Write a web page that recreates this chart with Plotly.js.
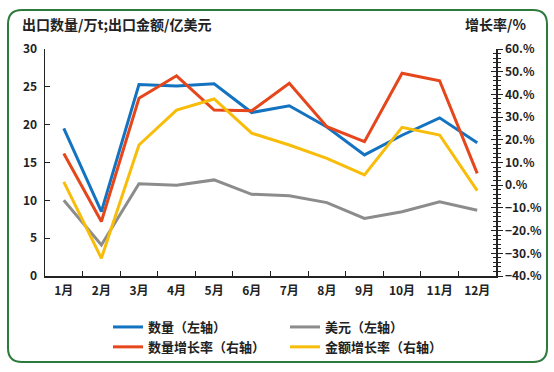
<!DOCTYPE html>
<html><head><meta charset="utf-8">
<script src="https://cdn.plot.ly/plotly-3.0.1.min.js"></script>
<style>html,body{margin:0;padding:0;background:#fff}#c{width:554px;height:372px}</style>
</head><body><div id="c"></div>
<script>
const months = ['1月','2月','3月','4月','5月','6月','7月','8月','9月','10月','11月','12月'];
const qty = [19.5, 8.5, 25.3, 25.1, 25.4, 21.6, 22.5, 19.7, 16.0, 18.6, 20.9, 17.6];
const usd = [10.0, 4.1, 12.2, 12.0, 12.7, 10.8, 10.6, 9.7, 7.6, 8.5, 9.8, 8.7];
const qtyGrowth = [14.0, -16.0, 38.3, 48.2, 33.1, 32.8, 44.9, 25.8, 19.2, 49.3, 46.0, 5.2];
const valGrowth = [1.5, -32.2, 17.7, 33.1, 38.0, 22.9, 17.7, 11.8, 4.5, 25.5, 22.1, -2.4];
const names = ['数量（左轴）','美元（左轴）','数量增长率（右轴）','金额增长率（右轴）'];
const colors = ['#1373c0','#8c8c8c','#e5461b','#f8bd0a'];

const F = '"Noto Sans CJK SC", "Noto Sans", sans-serif';
const series = [[qty,'y'],[usd,'y'],[qtyGrowth,'y2'],[valGrowth,'y2']];
const data = series.map((s,i)=>({
  x: months, y: s[0], yaxis: s[1], name: names[i], type:'scatter', mode:'lines',
  line:{color:colors[i], width:3}
}));
// invisible trace to carry the inside-tick copy of the right axis
data.push({x:[months[0]], y:[null], yaxis:'y3', showlegend:false, hoverinfo:'skip', type:'scatter', mode:'lines'});

const L=45, R=58, T=49, B=96, W=554, H=372;
const pw=W-L-R, ph=H-T-B;
const px = v => (v-L)/pw, py = v => (H-B-v)/ph;
const r=14;
const x0=8,x1=547,y0=10,y1=362;
const path = `M ${px(x0)} ${py(y0+r)} Q ${px(x0)} ${py(y0)} ${px(x0+r)} ${py(y0)} L ${px(x1-r)} ${py(y0)} Q ${px(x1)} ${py(y0)} ${px(x1)} ${py(y0+r)} L ${px(x1)} ${py(y1-r)} Q ${px(x1)} ${py(y1)} ${px(x1-r)} ${py(y1)} L ${px(x0+r)} ${py(y1)} Q ${px(x0)} ${py(y1)} ${px(x0)} ${py(y1-r)} Z`;

const layout = {
  width:W, height:H, margin:{l:L,r:R,t:T,b:B, autoexpand:false},
  paper_bgcolor:'#fff', plot_bgcolor:'#fff',
  font:{family:F, size:12, color:'#222'},
  showlegend:true,
  xaxis:{type:'category', range:[-0.5,11.5], showgrid:false, zeroline:false, showline:true, linecolor:'#222', linewidth:1.5,
    ticks:'inside', ticklen:5, tickcolor:'#222', tickson:'boundaries', tickfont:{family:F,size:12,weight:'bold'}, ticklabelstandoff:3},
  yaxis:{range:[0,30], dtick:5, showgrid:false, zeroline:false, showline:true, linecolor:'#222', linewidth:1.5,
    ticks:'inside', ticklen:5, tickcolor:'#222', tickfont:{family:F,size:12,weight:'bold'}, ticklabelstandoff:4},
  yaxis2:{range:[-40,60], dtick:10, overlaying:'y', side:'right', showgrid:false, zeroline:false, showline:true,
    linecolor:'#222', linewidth:1.5, ticks:'outside', ticklen:5, tickcolor:'#222', ticksuffix:'.%',
    tickfont:{family:F,size:12,weight:'bold'},
    minor:{dtick:2, ticks:'outside', ticklen:3, tickcolor:'#222'}},
  yaxis3:{range:[-40,60], dtick:10, overlaying:'y', side:'right', showgrid:false, zeroline:false, showline:false,
    ticks:'inside', ticklen:5, tickcolor:'#222', showticklabels:false,
    minor:{dtick:2, ticks:'inside', ticklen:3, tickcolor:'#222'}},
  legend:{orientation:'h', x:px(108), xanchor:'left', y:py(312), yanchor:'top', entrywidth:132, entrywidthmode:'pixels',
    font:{family:F,size:13,weight:'bold'}, tracegroupgap:0, itemwidth:30, bgcolor:'rgba(0,0,0,0)'},
  annotations:[
    {text:'出口数量/万t;出口金额/亿美元', xref:'paper', yref:'paper', x:px(20), y:py(24), xanchor:'left', yanchor:'middle',
      showarrow:false, font:{family:F,size:14,weight:'bold',color:'#222'}},
    {text:'增长率/%', xref:'paper', yref:'paper', x:px(528), y:py(24), xanchor:'right', yanchor:'middle',
      showarrow:false, font:{family:F,size:14,weight:'bold',color:'#222'}}
  ],
  shapes:[{type:'path', xref:'paper', yref:'paper', path:path, line:{color:'#2c7a3c', width:2}, layer:'below'}]
};
Plotly.newPlot('c', data, layout, {displayModeBar:false, staticPlot:true});
</script></body></html>
